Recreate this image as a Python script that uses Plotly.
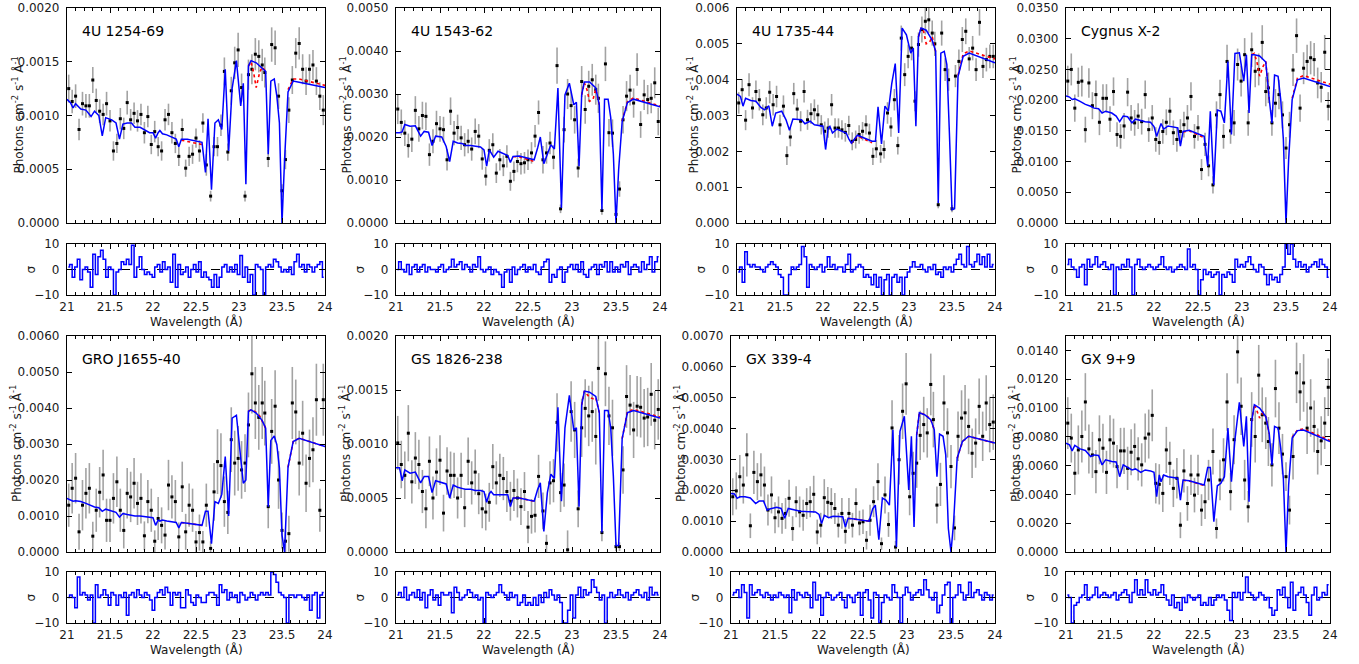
import plotly.graph_objects as go

# ---------------- data ----------------
NAMES = ["4U 1254-69", "4U 1543-62", "4U 1735-44", "Cygnus X-2",
         "GRO J1655-40", "GS 1826-238", "GX 339-4", "GX 9+9"]
Y_MAX = [0.002, 0.005, 0.006, 0.035, 0.006, 0.002, 0.007, 0.015]
Y_DTICK = [0.0005, 0.001, 0.001, 0.005, 0.001, 0.0005, 0.001, 0.002]
Y_FMT = [".4f", ".4f", ".3f", ".4f", ".4f", ".4f", ".4f", ".4f"]

DATA_X = [21.02, 21.06, 21.10, 21.14, 21.18, 21.22, 21.26, 21.30, 21.34, 21.38,
          21.42, 21.46, 21.50, 21.54, 21.58, 21.62, 21.66, 21.70, 21.74, 21.78,
          21.82, 21.86, 21.90, 21.94, 21.98, 22.02, 22.06, 22.10, 22.14, 22.18,
          22.22, 22.26, 22.30, 22.34, 22.38, 22.42, 22.46, 22.50, 22.54, 22.58,
          22.62, 22.67, 22.71, 22.75, 22.79, 22.83, 22.87, 22.91, 22.95, 22.99,
          23.03, 23.07, 23.11, 23.15, 23.19, 23.23, 23.27, 23.30, 23.34, 23.38,
          23.42, 23.46, 23.50, 23.54, 23.58, 23.62, 23.66, 23.70, 23.74, 23.78,
          23.82, 23.86, 23.90, 23.94, 23.98]

D1 = [0.00125, 0.00113, 0.00118, 0.00087, 0.00111, 0.00109, 0.00109, 0.00133, 0.00114, 0.00104,
      0.00101, 0.00111, 0.00095, 0.00067, 0.00074, 0.00097, 0.00088, 0.00112, 0.00096, 0.00102,
      0.00095, 0.00101, 0.00084, 0.00099, 0.00073, 0.00085, 0.00071, 0.00067, 0.00096, 0.00101,
      0.00084, 0.00074, 0.00062, 0.00087, 0.00051, 0.00062, 0.00064, 0.00079, 0.00067, 0.00093,
      0.00054, 0.00025, 0.00071, 0.00071, 0.00091, 0.00141, 0.00066, 0.00123, 0.00149, 0.00161,
      0.00126, 0.00025, 0.00138, 0.00143, 0.00157, 0.00155, 0.00147, 0.00140, 0.00060, 0.00166,
      0.00163, 0.00118, 0.00030, 0.00059, 0.00105, 0.00133, 0.00158, 0.00167, 0.00143, 0.00132,
      0.00143, 0.00147, 0.00132, 0.00118, 0.00105]
E1 = [0.00013, 0.00011, 0.00011, 0.0001, 0.00011, 0.00011, 0.00011, 0.00012, 0.00011, 0.00011,
      0.0001, 0.00011, 0.0001, 0.00009, 0.00009, 0.0001, 0.0001, 0.00011, 0.0001, 0.0001,
      0.0001, 0.0001, 0.0001, 0.0001, 0.00009, 0.0001, 0.00009, 0.00009, 0.0001, 0.0001,
      0.0001, 0.00009, 0.00009, 0.0001, 0.00008, 0.00009, 0.00009, 0.00009, 0.0001, 0.00009,
      0.0001, 0.00005, 0.00009, 0.00009, 0.0001, 0.00013, 0.00008, 0.00013, 0.00015, 0.00016,
      0.00013, 0.00005, 0.00014, 0.00014, 0.00015, 0.00015, 0.00015, 0.00014, 0.00008, 0.00016,
      0.00016, 0.00012, 0.00006, 0.00009, 0.00012, 0.00013, 0.00014, 0.00015, 0.00014, 0.00013,
      0.00014, 0.00014, 0.00013, 0.00013, 0.00014]

D2 = [0.00265, 0.00234, 0.00209, 0.0018, 0.00195, 0.00262, 0.00219, 0.0025, 0.00248, 0.00159,
      0.0019, 0.00231, 0.00219, 0.00217, 0.00147, 0.0026, 0.00209, 0.00222, 0.00198, 0.00182,
      0.0019, 0.00172, 0.00213, 0.00202, 0.00149, 0.00109, 0.00169, 0.00182, 0.00116, 0.00147,
      0.00133, 0.00155, 0.00097, 0.0012, 0.00143, 0.00138, 0.0014, 0.00147, 0.00163, 0.00202,
      0.00257, 0.00147, 0.00163, 0.00186, 0.00153, 0.00366, 0.00033, 0.00217, 0.0030, 0.00273,
      0.0024, 0.00128, 0.00329, 0.00264, 0.00318, 0.00333, 0.0031, 0.0029, 0.00029, 0.0037,
      0.0021, 0.00209, 0.0002, 0.00079, 0.0024, 0.00295, 0.00309, 0.00279, 0.00357, 0.00229,
      0.00298, 0.00287, 0.0029, 0.00326, 0.00236]
E2 = [0.00035, 0.0003, 0.0003, 0.00028, 0.0003, 0.00033, 0.0003, 0.00032, 0.00032, 0.00026,
      0.00028, 0.0003, 0.0003, 0.0003, 0.00025, 0.00032, 0.00028, 0.0003, 0.00028, 0.00027,
      0.00028, 0.00027, 0.0003, 0.00028, 0.00025, 0.00022, 0.00026, 0.00027, 0.00023, 0.00025,
      0.00024, 0.00026, 0.00022, 0.00023, 0.00025, 0.00025, 0.00025, 0.00024, 0.00025, 0.00026,
      0.00028, 0.00032, 0.00025, 0.00026, 0.00028, 0.00042, 0.0001, 0.0003, 0.00035, 0.00033,
      0.00032, 0.00022, 0.00036, 0.00033, 0.00036, 0.00037, 0.00035, 0.00034, 0.0001, 0.0004,
      0.00032, 0.00032, 0.00008, 0.00018, 0.00032, 0.00035, 0.00036, 0.00034, 0.00038, 0.00031,
      0.00035, 0.00034, 0.00035, 0.00036, 0.00032]

D3 = [0.00335, 0.00372, 0.00287, 0.00386, 0.00321, 0.00367, 0.00344, 0.00302, 0.00321, 0.00365,
      0.0033, 0.00353, 0.00274, 0.00326, 0.00188, 0.0024, 0.00361, 0.00318, 0.00284, 0.00367,
      0.00288, 0.00305, 0.00316, 0.00302, 0.00274, 0.00256, 0.00265, 0.0033, 0.00265, 0.00265,
      0.0026, 0.00253, 0.00272, 0.00228, 0.00233, 0.00247, 0.00256, 0.00274, 0.00251, 0.00186,
      0.00207, 0.00193, 0.00205, 0.00307, 0.00268, 0.00344, 0.00216, 0.00516, 0.00414, 0.00465,
      0.00488, 0.0034, 0.00498, 0.0054, 0.00563, 0.00567, 0.0053, 0.0050, 0.00051, 0.0053,
      0.00428, 0.004, 0.0004, 0.0041, 0.00451, 0.00512, 0.00535, 0.00458, 0.00488, 0.00428,
      0.0056, 0.00437, 0.00456, 0.00465, 0.00465]
E3 = [0.0003, 0.0003, 0.00028, 0.00032, 0.0003, 0.00031, 0.0003, 0.00029, 0.0003, 0.00031,
      0.0003, 0.0003, 0.00028, 0.0003, 0.00026, 0.00026, 0.0003, 0.00029, 0.00028, 0.00031,
      0.00028, 0.00029, 0.00029, 0.00028, 0.00027, 0.00027, 0.00027, 0.0003, 0.00027, 0.00027,
      0.00027, 0.00026, 0.00027, 0.00025, 0.00025, 0.00026, 0.00026, 0.00027, 0.00026, 0.00024,
      0.00025, 0.00025, 0.00025, 0.0003, 0.00027, 0.0003, 0.00025, 0.00035, 0.00032, 0.00033,
      0.00034, 0.00028, 0.00034, 0.00036, 0.00037, 0.00037, 0.00035, 0.00034, 0.0001, 0.00035,
      0.00032, 0.00031, 0.0001, 0.00031, 0.00033, 0.00035, 0.00036, 0.00033, 0.00034, 0.00032,
      0.00037, 0.00032, 0.00033, 0.00033, 0.00033]

D4 = [0.0231, 0.025, 0.0187, 0.0229, 0.0231, 0.0152, 0.0228, 0.0191, 0.0209, 0.0164,
      0.0203, 0.0203, 0.0169, 0.0214, 0.0144, 0.0141, 0.0158, 0.0213, 0.0171, 0.0163,
      0.0174, 0.0165, 0.0209, 0.0152, 0.0171, 0.0136, 0.0131, 0.0149, 0.0164, 0.0182,
      0.0147, 0.0136, 0.0149, 0.016, 0.0171, 0.0206, 0.0141, 0.0155, 0.0087, 0.0128,
      0.0093, 0.0062, 0.0176, 0.0209, 0.0141, 0.0263, 0.015, 0.0163, 0.0258, 0.0231,
      0.0274, 0.0163, 0.0282, 0.0247, 0.025, 0.0294, 0.0214, 0.022, 0.0163, 0.0195,
      0.0209, 0.0176, 0.0122, 0.016, 0.0249, 0.0305, 0.0187, 0.0252, 0.0263, 0.0269,
      0.0266, 0.0228, 0.0221, 0.0278, 0.019]
E4 = [0.0025, 0.0026, 0.0022, 0.0024, 0.0025, 0.0021, 0.0024, 0.0022, 0.0023, 0.0021,
      0.0023, 0.0023, 0.0021, 0.0023, 0.002, 0.002, 0.0021, 0.0023, 0.0021, 0.0021,
      0.0021, 0.0021, 0.0023, 0.002, 0.0021, 0.002, 0.002, 0.002, 0.0021, 0.0022,
      0.002, 0.002, 0.002, 0.0021, 0.0021, 0.0023, 0.002, 0.0021, 0.0017, 0.0019,
      0.0017, 0.0014, 0.0022, 0.0024, 0.002, 0.0027, 0.0021, 0.0021, 0.0026, 0.0025,
      0.0027, 0.0021, 0.0028, 0.0026, 0.0026, 0.0028, 0.0024, 0.0025, 0.0021, 0.0023,
      0.0024, 0.0022, 0.0018, 0.0021, 0.0026, 0.0028, 0.0022, 0.0026, 0.0027, 0.0027,
      0.0027, 0.0025, 0.0025, 0.0028, 0.0023]

D5 = [0.0013, 0.00177, 0.00205, 0.00056, 0.0013, 0.00163, 0.00177, 0.00044, 0.00116, 0.00166,
      0.00214, 0.00088, 0.00088, 0.00149, 0.00195, 0.00116, 0.0006, 0.00163, 0.00153, 0.00191,
      0.00135, 0.00149, 0.00045, 0.0014, 0.00116, 0.0003, 0.00093, 0.00074, 0.00047, 0.00186,
      0.00153, 0.0014, 0.00042, 0.00181, 0.00056, 0.0013, 0.00116, 0.00028, 0.00054, 0.00028,
      0.0013, 0.0001, 0.00167, 0.00251, 0.0024, 0.0014, 0.0011, 0.00312, 0.00247, 0.0026,
      0.00228, 0.00247, 0.00353, 0.00495, 0.00414, 0.00374, 0.00414, 0.00386, 0.00126, 0.00335,
      0.00405, 0.0020, 0.0006, 0.0003, 0.00051, 0.00414, 0.00389, 0.00247, 0.0033, 0.00191,
      0.0026, 0.00284, 0.00423, 0.00116, 0.00423]
E5 = [0.0006, 0.0007, 0.0007, 0.0005, 0.0007, 0.0007, 0.0007, 0.0004, 0.0006, 0.0007,
      0.0007, 0.0006, 0.0006, 0.0007, 0.0007, 0.0006, 0.0005, 0.0007, 0.0007, 0.0007,
      0.0006, 0.0007, 0.0004, 0.0006, 0.0006, 0.0003, 0.0006, 0.0005, 0.0004, 0.0007,
      0.0006, 0.0006, 0.0004, 0.0007, 0.0005, 0.0006, 0.0006, 0.0003, 0.0005, 0.0003,
      0.0006, 0.0002, 0.0008, 0.0009, 0.0009, 0.0007, 0.0006, 0.0009, 0.0009, 0.0009,
      0.0008, 0.0008, 0.0009, 0.0011, 0.001, 0.0009, 0.001, 0.0009, 0.0006, 0.0009,
      0.001, 0.0008, 0.0005, 0.0003, 0.0005, 0.001, 0.0009, 0.0009, 0.0009, 0.0008,
      0.0008, 0.0009, 0.001, 0.0006, 0.001]

D6 = [0.00101, 0.00081, 0.00071, 0.0011, 0.00065, 0.00087, 0.00081, 0.00056, 0.0004, 0.00084,
      0.0005, 0.00074, 0.00085, 0.00036, 0.00075, 0.00071, 0.00071, 0.0005, 0.00071, 0.00041,
      0.00084, 0.00064, 0.00074, 0.00054, 0.0004, 0.00037, 0.00046, 0.00079, 0.00064, 0.00071,
      0.00068, 0.00056, 0.00047, 0.00057, 0.0005, 0.00042, 0.00056, 0.00023, 0.00033, 0.00034,
      0.0007, 0.00038, 0.00008, 0.00064, 0.00066, 0.0012, 0.00055, 0.00062, 0.00002, 0.0013,
      0.00113, 0.0004, 0.00115, 0.00133, 0.00126, 0.0013, 0.00107, 0.0017, 0.00018, 0.00165,
      0.00126, 0.00115, 0.00005, 0.00005, 0.00076, 0.00144, 0.00136, 0.00113, 0.00135, 0.00134,
      0.00124, 0.00125, 0.00146, 0.00122, 0.00132]
E6 = [0.00025, 0.00022, 0.00022, 0.00026, 0.0002, 0.00024, 0.00023, 0.0002, 0.00018, 0.00023,
      0.0002, 0.00022, 0.00023, 0.00017, 0.00022, 0.00022, 0.00021, 0.00019, 0.00021, 0.00018,
      0.00022, 0.0002, 0.00021, 0.00019, 0.00018, 0.00017, 0.00018, 0.00021, 0.0002, 0.0002,
      0.0002, 0.00019, 0.00018, 0.00019, 0.00018, 0.00017, 0.00018, 0.00015, 0.00016, 0.00016,
      0.0002, 0.00017, 0.00008, 0.0002, 0.0002, 0.00027, 0.00018, 0.0002, 0.00018, 0.00028,
      0.00026, 0.00017, 0.00027, 0.00027, 0.00028, 0.00028, 0.00026, 0.0003, 0.00008, 0.0003,
      0.00027, 0.00026, 0.00004, 0.00004, 0.00022, 0.00029, 0.00028, 0.00026, 0.00028, 0.00028,
      0.00027, 0.00027, 0.00029, 0.00027, 0.00028]

D7 = [0.00179, 0.00198, 0.00244, 0.00217, 0.00315, 0.00085, 0.00258, 0.00228, 0.0025, 0.00217,
      0.00136, 0.00185, 0.00111, 0.0013, 0.00109, 0.00125, 0.00174, 0.00076, 0.00163, 0.0013,
      0.00119, 0.00157, 0.00163, 0.00187, 0.00065, 0.00087, 0.00176, 0.00161, 0.00157, 0.00141,
      0.00087, 0.00125, 0.00067, 0.00125, 0.00087, 0.00157, 0.00094, 0.00098, 0.00038, 0.00103,
      0.00163, 0.00228, 0.00027, 0.00185, 0.00089, 0.00402, 0.00016, 0.00299, 0.00456, 0.00545,
      0.00179, 0.00255, 0.00288, 0.00378, 0.00413, 0.00386, 0.00543, 0.00429, 0.00152, 0.00219,
      0.00483, 0.00386, 0.00277, 0.00078, 0.00375, 0.00434, 0.00451, 0.00407, 0.0032, 0.00353,
      0.00472, 0.00375, 0.00483, 0.00413, 0.00421]
E7 = [0.0006, 0.0006, 0.0007, 0.0006, 0.0007, 0.0004, 0.0007, 0.0006, 0.0007, 0.0006,
      0.0005, 0.0006, 0.0005, 0.0005, 0.0005, 0.0005, 0.0006, 0.0004, 0.0005, 0.0005,
      0.0005, 0.0005, 0.0005, 0.0006, 0.0004, 0.0004, 0.0006, 0.0005, 0.0005, 0.0005,
      0.0004, 0.0005, 0.0004, 0.0005, 0.0004, 0.0005, 0.0004, 0.0004, 0.0003, 0.0005,
      0.0005, 0.0006, 0.0002, 0.0006, 0.0004, 0.0009, 0.0002, 0.0008, 0.0009, 0.001,
      0.0006, 0.0007, 0.0008, 0.0008, 0.0009, 0.0008, 0.001, 0.0009, 0.0006, 0.0007,
      0.0009, 0.0008, 0.0007, 0.0004, 0.0008, 0.0009, 0.0009, 0.0009, 0.0008, 0.0008,
      0.0009, 0.0008, 0.0009, 0.0009, 0.0009]

D8 = [0.00895, 0.00791, 0.00547, 0.00709, 0.00802, 0.01042, 0.00716, 0.00674, 0.00558, 0.00779,
      0.00721, 0.00553, 0.00779, 0.00756, 0.00593, 0.00702, 0.00702, 0.00581, 0.00693, 0.00733,
      0.00647, 0.00605, 0.00791, 0.00819, 0.00949, 0.00477, 0.0047, 0.00407, 0.00709, 0.00616,
      0.00442, 0.00512, 0.00186, 0.00563, 0.00337, 0.00535, 0.00395, 0.00535, 0.00291, 0.00349,
      0.005, 0.00698, 0.00163, 0.005, 0.0064, 0.01042, 0.00419, 0.0078, 0.0139, 0.01012,
      0.005, 0.00314, 0.0092, 0.00802, 0.01228, 0.00953, 0.00895, 0.00767, 0.00605, 0.01135,
      0.0086, 0.0068, 0.00523, 0.00291, 0.00663, 0.01244, 0.01112, 0.01174, 0.0086, 0.01,
      0.00872, 0.00698, 0.00772, 0.00895, 0.01144]
E8 = [0.0018, 0.0017, 0.0015, 0.0017, 0.0018, 0.002, 0.0017, 0.0016, 0.0015, 0.0017,
      0.0017, 0.0015, 0.0017, 0.0017, 0.0015, 0.0016, 0.0016, 0.0015, 0.0016, 0.0016,
      0.0015, 0.0015, 0.0017, 0.0017, 0.0018, 0.0014, 0.0014, 0.0013, 0.0016, 0.0015,
      0.0013, 0.0014, 0.0009, 0.0015, 0.0012, 0.0014, 0.0012, 0.0014, 0.0011, 0.0012,
      0.0014, 0.0016, 0.0007, 0.0014, 0.0015, 0.002, 0.0013, 0.0017, 0.0022, 0.002,
      0.0014, 0.0011, 0.0019, 0.0018, 0.0021, 0.0019, 0.0018, 0.0017, 0.0015, 0.002,
      0.0018, 0.0014, 0.001, 0.001, 0.0016, 0.0021, 0.002, 0.002, 0.0018, 0.002,
      0.0018, 0.0016, 0.0017, 0.0018, 0.002]

MODEL_X = [21.00, 21.04, 21.07, 21.10, 21.16, 21.22, 21.28, 21.32, 21.37, 21.41,
           21.45, 21.52, 21.57, 21.61, 21.65, 21.70, 21.75, 21.79, 21.85, 21.90,
           21.96, 22.00, 22.03, 22.06, 22.08, 22.11, 22.16, 22.27, 22.30, 22.33,
           22.40, 22.57, 22.61, 22.64, 22.68, 22.72, 22.76, 22.80, 22.84, 22.88,
           22.92, 22.97, 23.02, 23.05, 23.08, 23.11, 23.14, 23.20, 23.27, 23.31,
           23.34, 23.37, 23.41, 23.44, 23.47, 23.50, 23.53, 23.57, 23.63, 23.70,
           24.00]

M1 = [0.00115, 0.00112, 0.00107, 0.00111, 0.00106, 0.00105, 0.00099, 0.00104, 0.00100, 0.00081,
      0.00098, 0.00096, 0.00093, 0.00078, 0.00092, 0.00093, 0.00093, 0.00089, 0.00089, 0.00087,
      0.00084, 0.00084, 0.00079, 0.00084, 0.00086, 0.00083, 0.00082, 0.00078, 0.00071, 0.00078,
      0.00078, 0.00075, 0.00047, 0.00097, 0.00031, 0.00093, 0.00096, 0.00087, 0.00143, 0.00067,
      0.00125, 0.00151, 0.00109, 0.00130, 0.00036, 0.00146, 0.00151, 0.00149, 0.00144, 0.00141,
      0.00064, 0.00132, 0.00134, 0.00118, 0.00093, 0.0, 0.00059, 0.00122, 0.00132, 0.00131,
      0.00126]
M2 = [0.0021, 0.0021, 0.00212, 0.00229, 0.00225, 0.00226, 0.00202, 0.00213, 0.00211, 0.0018,
      0.00202, 0.002, 0.00178, 0.00143, 0.0019, 0.00186, 0.00185, 0.0018, 0.0018, 0.00179,
      0.00177, 0.0017, 0.00132, 0.0017, 0.00162, 0.00153, 0.00167, 0.00157, 0.00141, 0.00155,
      0.00156, 0.00147, 0.00175, 0.002, 0.00138, 0.0016, 0.00182, 0.00172, 0.00314, 0.00035,
      0.00298, 0.00325, 0.00275, 0.00281, 0.00132, 0.00298, 0.00328, 0.00328, 0.00314, 0.00275,
      0.00031, 0.00288, 0.00288, 0.00245, 0.0016, 0.0, 0.00124, 0.00236, 0.0028, 0.00288,
      0.0027]
M3 = [0.0036, 0.00353, 0.00326, 0.00348, 0.00342, 0.0034, 0.00322, 0.00316, 0.00327, 0.0027,
      0.00307, 0.00312, 0.00288, 0.00259, 0.0029, 0.0029, 0.00288, 0.00277, 0.00284, 0.00274,
      0.00272, 0.0027, 0.00205, 0.00265, 0.0027, 0.00251, 0.00262, 0.00251, 0.00235, 0.00223,
      0.00245, 0.00228, 0.00228, 0.00324, 0.00221, 0.00326, 0.00312, 0.0039, 0.00445, 0.00251,
      0.00544, 0.00525, 0.00474, 0.00488, 0.0027, 0.0052, 0.00544, 0.00538, 0.0051, 0.00479,
      0.00056, 0.00474, 0.00479, 0.00442, 0.0025, 0.00037, 0.0004, 0.00409, 0.00465, 0.00474,
      0.00447]
M4 = [0.0207, 0.0205, 0.0201, 0.0202, 0.0198, 0.0193, 0.019, 0.0187, 0.0186, 0.0179,
      0.0182, 0.0179, 0.0174, 0.0165, 0.0174, 0.0173, 0.0163, 0.0169, 0.0167, 0.0165,
      0.0164, 0.0157, 0.0141, 0.0155, 0.0162, 0.0153, 0.0158, 0.0155, 0.0125, 0.0149,
      0.0151, 0.0141, 0.0093, 0.0182, 0.0062, 0.0184, 0.0182, 0.0163, 0.0263, 0.0144,
      0.0276, 0.0277, 0.0231, 0.0274, 0.0179, 0.0274, 0.0274, 0.0272, 0.0262, 0.0201,
      0.0163, 0.0241, 0.0239, 0.0201, 0.0136, 0.0, 0.0103, 0.0201, 0.0233, 0.0236,
      0.0222]
M5 = [0.00149, 0.00144, 0.00141, 0.00142, 0.0014, 0.00135, 0.00128, 0.00125, 0.00123, 0.00113,
      0.00119, 0.00114, 0.0011, 0.00097, 0.00107, 0.00104, 0.00102, 0.001, 0.001, 0.00099,
      0.00097, 0.00095, 0.00074, 0.00089, 0.00086, 0.00089, 0.00086, 0.00082, 0.00067, 0.00082,
      0.0008, 0.00074, 0.00113, 0.00113, 0.00023, 0.0014, 0.00135, 0.0016, 0.00265, 0.001,
      0.00372, 0.0038, 0.0026, 0.00191, 0.002, 0.00391, 0.00395, 0.00386, 0.00365, 0.00344,
      0.00126, 0.0031, 0.00322, 0.00298, 0.00233, 0.00047, 0.0, 0.00235, 0.00307, 0.00316,
      0.00293]
M6 = [0.00078, 0.00078, 0.00066, 0.00076, 0.00073, 0.00074, 0.00064, 0.0007, 0.0007, 0.00055,
      0.00066, 0.00064, 0.00063, 0.0005, 0.00062, 0.0006, 0.00059, 0.00058, 0.00058, 0.00057,
      0.00057, 0.00056, 0.00046, 0.00054, 0.00056, 0.00053, 0.00053, 0.00053, 0.00042, 0.0005,
      0.0005, 0.00047, 0.00058, 0.00064, 0.00019, 0.00055, 0.00072, 0.00068, 0.00134, 0.00047,
      0.00115, 0.00145, 0.00113, 0.00115, 0.00042, 0.00136, 0.00149, 0.00148, 0.00144, 0.00129,
      0.00018, 0.00131, 0.00131, 0.00115, 0.0007, 0.00006, 0.00006, 0.00105, 0.00129, 0.00131,
      0.00124]
M7 = [0.0019, 0.00188, 0.00174, 0.00179, 0.00179, 0.00175, 0.00157, 0.00165, 0.00165, 0.00136,
      0.0014, 0.00145, 0.00141, 0.00109, 0.00141, 0.00137, 0.00133, 0.00132, 0.00131, 0.0013,
      0.0013, 0.00122, 0.00092, 0.00119, 0.00115, 0.00111, 0.00116, 0.00114, 0.00081, 0.00109,
      0.00107, 0.001, 0.0014, 0.00152, 0.0004, 0.00175, 0.00168, 0.00152, 0.00396, 0.00016,
      0.00391, 0.0044, 0.00201, 0.00375, 0.00081, 0.0038, 0.00451, 0.00445, 0.00429, 0.00396,
      0.00244, 0.00382, 0.00375, 0.00315, 0.00076, 0.0, 0.00098, 0.00304, 0.00358, 0.00375,
      0.00353]
M8 = [0.00756, 0.00744, 0.00702, 0.0074, 0.00716, 0.00705, 0.00663, 0.00674, 0.0067, 0.00605,
      0.0064, 0.00628, 0.00625, 0.00523, 0.00605, 0.00586, 0.0057, 0.00577, 0.00553, 0.0057,
      0.00563, 0.00553, 0.00384, 0.00535, 0.00488, 0.00535, 0.00523, 0.00512, 0.0036, 0.005,
      0.00495, 0.00465, 0.00586, 0.00586, 0.0021, 0.0046, 0.00477, 0.00523, 0.0086, 0.00488,
      0.0078, 0.0104, 0.00733, 0.00942, 0.00349, 0.00907, 0.01023, 0.0100, 0.0094, 0.0082,
      0.00605, 0.00872, 0.0086, 0.0072, 0.0051, 0.0, 0.00465, 0.00791, 0.00843, 0.00847,
      0.00767]

# second (red, dotted) model where it departs from the blue one
RED_X = [22.33, 22.40, 22.57, None, 23.11, 23.14, 23.17, 23.20, 23.24, 23.27, 23.31,
         None, 23.57, 23.63, 23.70, 24.00]
R1 = [0.00077, 0.00076, 0.00073, None, 0.00146, 0.0015, 0.0014, 0.00126, 0.0014, 0.00145, 0.00141,
      None, 0.00124, 0.00134, 0.00134, 0.00128]
R2 = [0.00154, 0.00154, 0.00143, None, 0.00298, 0.00326, 0.0031, 0.00283, 0.00288, 0.00312, 0.00275,
      None, 0.00237, 0.00282, 0.00291, 0.00272]
R3 = [0.00222, 0.00243, 0.00224, None, 0.0052, 0.00544, 0.00535, 0.005, 0.00505, 0.0052, 0.00479,
      None, 0.00412, 0.00472, 0.0048, 0.00458]
R4 = [0.0148, 0.015, 0.0139, None, 0.0274, 0.0276, 0.0262, 0.0239, 0.0255, 0.0263, 0.0201,
      None, 0.0203, 0.0236, 0.024, 0.0226]
R5 = [0.00082, 0.0008, 0.00074, None, 0.00391, 0.00395, 0.00392, 0.00388, 0.00378, 0.00365, 0.00344,
      None, 0.00235, 0.00307, 0.00316, 0.00293]
R6 = [0.0005, 0.0005, 0.00047, None, 0.00136, 0.00149, 0.00146, 0.00143, 0.00142, 0.00143, 0.00129,
      None, 0.00105, 0.0013, 0.00132, 0.00125]
R7 = [0.00109, 0.00107, 0.001, None, 0.0038, 0.00451, 0.00449, 0.00446, 0.00437, 0.00429, 0.00396,
      None, 0.00304, 0.00358, 0.00375, 0.00353]
R8 = [0.00498, 0.00493, 0.00462, None, 0.00907, 0.01025, 0.0098, 0.0093, 0.0097, 0.0094, 0.0082,
      None, 0.00795, 0.00848, 0.00855, 0.00775]

RES_X = [21.015, 21.045, 21.075, 21.105, 21.135, 21.165, 21.195, 21.225, 21.255, 21.285,
         21.315, 21.345, 21.375, 21.405, 21.435, 21.465, 21.495, 21.525, 21.555, 21.585,
         21.615, 21.645, 21.675, 21.705, 21.735, 21.765, 21.795, 21.825, 21.855, 21.885,
         21.915, 21.945, 21.975, 22.005, 22.035, 22.065, 22.095, 22.125, 22.155, 22.185,
         22.215, 22.245, 22.275, 22.305, 22.335, 22.365, 22.395, 22.425, 22.455, 22.485,
         22.515, 22.545, 22.575, 22.605, 22.635, 22.665, 22.695, 22.725, 22.755, 22.785,
         22.815, 22.845, 22.875, 22.905, 22.935, 22.965, 22.995, 23.025, 23.055, 23.085,
         23.115, 23.145, 23.175, 23.205, 23.235, 23.265, 23.295, 23.325, 23.355, 23.385,
         23.415, 23.445, 23.475, 23.505, 23.535, 23.565, 23.595, 23.625, 23.655, 23.685,
         23.715, 23.745, 23.775, 23.805, 23.835, 23.865, 23.895, 23.925, 23.955, 23.985]

S1 = [1, 2, -3, 1, 4, -4, 0, 1, -1, -7,
      6, -2, 5, 7.5, 4, -3, 1, 0, -10, -1,
      0, 3, 2, 4, 2, 9.5, -3, 1, 5, 0,
      -2, -1, -2, -3, 1, 2, -1, 3, 0, 1,
      -5, 6, -7, 2, -2, -1, 1, -3, 0, 2,
      -1, 3, -3, -1, -3, -4, -7, -2, -7, -3,
      1, 2, -1, 1, -1, 2, -2, 5.5, -3, 1,
      -5, -2, -10, 2, 1, 0, -10, 1, 2, 1,
      4, 3, 1, -1, 0, -1, 1, -2, 3, 6,
      1, 2, -1, 2, 1, -1, 1, 2, 3, -3]
S2 = [0, 3, 0, -1, 2, -2, 1, 2, -1, 1,
      2, -1, 1, 0, 0, -1, 1, 2, -1, 0,
      1, 4, 1, 2, 3, 0, 2, 1, -1, 2,
      1, 5, 0, -1, 0, 1, -2, 0, -1, -2,
      -7, -1, 0, -5, 1, -2, 0, 1, 2, -1,
      1, 0, 2, -1, -2, 1, 3, 4, -5, -2,
      -3, 0, 1, -5, -1, 1, 2, 0, 2, -1,
      3, -2, -3, 0, 1, 2, -2, 2, 1, 3,
      -1, 3, -1, 1, -1, 2, 1, 3, -2, 1,
      2, 1, -1, 3, 0, 2, 5, -1, 3, 5]
S3 = [-1, 1, -5, 7, 2, 1, 2, 1, 1, 0,
      -1, 1, 2, 3, 2, 1, -2, -3, -10, -10,
      -2, 1, 0, 1, 2, 9, 5, -7, 2, 1,
      0, 1, 2, -1, 1, 5, 1, 2, 0, 1,
      1, -1, 2, 6, -1, 0, 1, 2, 1, -3,
      -2, -3, -6, -2, -7, -3, -10, -4, -2, -10,
      -3, -2, -5, -3, -10, -3, -1, 1, 3, 1,
      1, 2, 0, -1, 1, 0, 2, -2, -1, -3,
      1, 0, 1, -1, 2, 4, 6, 2, 1, 9,
      2, 1, 3, 6, 2, 5, 1, 6, 1, 2]
S4 = [2, 4, 1, 0, -3, 1, 2, -6, 4, 1,
      2, 5, 1, 2, 3, 1, 0, 2, -10, 1,
      0, 2, 1, 4, 1, -10, 2, 4, 1, 0,
      1, 2, 1, 0, 1, 2, 5, 1, 0, 1,
      -1, 0, 1, 2, 1, 0, 8, 1, 2, 0,
      -10, -4, 0, -2, -1, -3, -2, -1, -10, -2,
      -3, -1, -2, -5, 4, 1, 2, 1, 3, 5,
      2, 0, -1, 2, 1, -2, -6, -2, -4, -3,
      -5, -2, 1, 10, 6, 10, 4, 1, 3, 1,
      2, -1, 1, 2, 3, 1, 4, 2, 1, -3]
S5 = [0, 1, 0, -4, 8, 1, 2, 1, -1, 1,
      -10, 5, 0, 1, 3, 1, -3, 2, 1, -3,
      1, 0, 2, -7, 1, 2, 0, 3, 1, 0,
      2, 1, -1, -5, 0, 2, 3, 1, 4, 2,
      -3, 2, 1, 2, -4, -4, 3, 1, -2, -3,
      1, 0, -2, -2, 1, 2, 2, 1, -3, 5,
      2, 3, -1, 2, 0, 1, -2, 2, 1, -1,
      0, 2, 1, -1, 1, 2, 1, 2, 1, 10,
      9, 6, 2, 1, 0, -10, 1, 1, 0, 1,
      1, 0, -1, 1, -5, 1, 2, -8, 1, 2]
S6 = [1, 2, 0, 4, -1, 1, 2, 0, 3, -1,
      2, -4, 1, 3, -1, 1, -3, 2, 1, 1,
      2, -6, 4, 2, -1, 0, 1, 3, 2, 0,
      1, -1, 0, -10, 2, 1, 0, 1, 2, 5,
      2, 1, -1, 2, 0, 1, -3, -2, 1, -3,
      -2, -3, 0, -3, 1, -2, 2, 0, 3, 1,
      -1, 1, -2, -10, -10, -5, 1, -8, 1, 4,
      0, 3, 1, 2, 7, 4, 2, -1, 1, -10,
      0, 2, 0, 1, 3, 1, 0, 2, -1, 1,
      2, 3, 1, 0, 2, -1, 4, 1, 2, 1]
S7 = [1, 2, 3, 0, 5, 2, -8, 5, 1, 2,
      3, 1, 0, 2, 1, -1, 1, 0, 2, 1,
      0, 1, -6, 3, -1, 2, 1, 0, 2, 1,
      -4, 6, -1, 1, -7, 0, 2, 1, -1, 0,
      1, 2, -1, -4, 1, 0, -2, 1, 2, -7,
      2, 3, -1, -8, 2, 1, -10, -2, 1, 0,
      -1, 5, 2, 0, -10, 1, 4, 2, -1, 1,
      2, 3, 1, 7, 3, 0, -1, 2, -6, -3,
      1, 5, 6, -10, 0, 1, 5, 2, -1, 1,
      6, 0, 2, 3, 1, -1, 2, 1, -1, 1]
S8 = [1, 0, -10, -3, -2, 0, 1, 5, -1, 0,
      1, 4, 0, 1, 2, 1, 0, 1, 2, -1,
      1, 2, 3, 1, -2, 2, 7, 1, 3, 1,
      7, 2, 1, 3, 1, 2, 5, 1, -1, -3,
      1, -4, -2, -5, 0, -2, 1, 0, -1, 0,
      1, -3, -2, -3, 0, -3, -1, 1, 0, 1,
      -1, -5, -9, 2, 0, 2, -1, 2, 8, 2,
      1, -1, 0, 2, 1, -1, 0, -4, -7, -5,
      3, 1, 4, 0, -4, 6, -5, 1, 2, 4,
      1, -2, -7, 1, 4, -1, 0, 2, 1, 5]

DATA_Y = [D1, D2, D3, D4, D5, D6, D7, D8]
DATA_E = [E1, E2, E3, E4, E5, E6, E7, E8]
MODEL_Y = [M1, M2, M3, M4, M5, M6, M7, M8]
RED_Y = [R1, R2, R3, R4, R5, R6, R7, R8]
RES_Y = [S1, S2, S3, S4, S5, S6, S7, S8]

# ---------------- layout (page pixels) ----------------
W, H = 1359, 664
PANEL_LR = [(67, 325), (396, 660), (737, 995), (1066, 1330),
            (67, 325), (396, 660), (731, 995), (1066, 1330)]
MAIN_TB = [(8, 223), (336, 552)]
RES_TB = [(244, 295), (572, 623)]
YTITLE_OFF = [50, 51, 45, 51, 51, 51, 51, 51]
FONT = "DejaVu Sans"
TXT = "#1a1a1a"


def px(x):
    return x / W


def py(y):
    return 1 - y / H


fig = go.Figure()
layout = {}
annotations = []


def axname(kind, i):
    return kind + "axis" + ("" if i == 1 else str(i))


def ref(kind, i):
    return kind + ("" if i == 1 else str(i))


common = dict(showline=True, linecolor="black", linewidth=1.2, mirror="ticks",
              ticks="inside", tickcolor="black", ticklen=5, tickwidth=1,
              showgrid=False, zeroline=False, automargin=False,
              tickfont=dict(family=FONT, size=12, color=TXT))

for p in range(8):
    row = p // 4
    L, R = PANEL_LR[p]
    mt, mb = MAIN_TB[row]
    rt, rb = RES_TB[row]
    mi, ri = 2 * p + 1, 2 * p + 2
    xd = [px(L), px(R)]

    fig.add_trace(go.Scatter(
        x=DATA_X, y=DATA_Y[p], mode="markers",
        marker=dict(symbol="square", size=3, color="black"),
        error_y=dict(type="data", array=DATA_E[p], color="#a3a3a3",
                     thickness=1.6, width=0),
        xaxis=ref("x", mi), yaxis=ref("y", mi), showlegend=False))
    fig.add_trace(go.Scatter(
        x=RED_X, y=RED_Y[p], mode="lines",
        line=dict(color="#ff0000", width=1.6, dash="dot"),
        connectgaps=False,
        xaxis=ref("x", mi), yaxis=ref("y", mi), showlegend=False))
    fig.add_trace(go.Scatter(
        x=MODEL_X, y=MODEL_Y[p], mode="lines",
        line=dict(color="#0000ff", width=1.5),
        xaxis=ref("x", mi), yaxis=ref("y", mi), showlegend=False))
    fig.add_trace(go.Scatter(
        x=[21, 24], y=[0, 0], mode="lines",
        line=dict(color="black", width=1, dash="dash"),
        xaxis=ref("x", ri), yaxis=ref("y", ri), showlegend=False))
    fig.add_trace(go.Scatter(
        x=RES_X[:len(RES_Y[p])], y=RES_Y[p], mode="lines",
        line=dict(color="#0000ff", width=1.5, shape="hvh"),
        xaxis=ref("x", ri), yaxis=ref("y", ri), showlegend=False))

    minor = dict(dtick=0.1, ticklen=3, ticks="inside", tickcolor="black", showgrid=False)
    layout[axname("x", mi)] = dict(common, domain=xd, range=[21, 24], tick0=21, dtick=0.5,
                                   showticklabels=False, minor=minor, anchor=ref("y", mi))
    layout[axname("y", mi)] = dict(common, domain=[py(mb), py(mt)],
                                   range=[0, Y_MAX[p]], tick0=0, dtick=Y_DTICK[p],
                                   tickformat=Y_FMT[p], anchor=ref("x", mi),
                                   ticklabelstandoff=4, ticklabeloverflow="allow")
    layout[axname("x", ri)] = dict(common, domain=xd, range=[21, 24], tick0=21, dtick=0.5,
                                   minor=minor, anchor=ref("y", ri))
    layout[axname("y", ri)] = dict(common, domain=[py(rb), py(rt)],
                                   range=[-10, 10], tickvals=[-10, 0, 10],
                                   anchor=ref("x", ri), ticklabelstandoff=4)

    annotations.append(dict(x=px(L + 13), y=py(mt + 23), xref="paper", yref="paper",
                            text=NAMES[p], showarrow=False, xanchor="left", yanchor="middle",
                            font=dict(family=FONT, size=14, color="black")))
    annotations.append(dict(x=px(L - YTITLE_OFF[p]), y=py((mt + mb) / 2),
                            xref="paper", yref="paper", textangle=-90,
                            text="Photons cm<sup>-2</sup> s<sup>-1</sup> Å<sup>-1</sup>",
                            showarrow=False, xanchor="center", yanchor="middle",
                            font=dict(family=FONT, size=12, color=TXT)))
    annotations.append(dict(x=px(L - 37), y=py((rt + rb) / 2),
                            xref="paper", yref="paper", textangle=-90, text="σ",
                            showarrow=False, xanchor="center", yanchor="middle",
                            font=dict(family=FONT, size=12, color=TXT)))
    annotations.append(dict(x=px((L + R) / 2), y=py(rb + 26),
                            xref="paper", yref="paper", text="Wavelength (Å)",
                            showarrow=False, xanchor="center", yanchor="middle",
                            font=dict(family=FONT, size=12, color=TXT)))

fig.update_layout(width=W, height=H, margin=dict(l=0, r=0, t=0, b=0),
                  paper_bgcolor="white", plot_bgcolor="white",
                  showlegend=False, annotations=annotations,
                  font=dict(family=FONT, size=12, color=TXT), **layout)

# remove the browser's default page margin so the figure fills the window exactly
fig.write_html("out.html", config={"displayModeBar": False},
               post_script="document.body.style.margin='0px';document.body.style.overflow='hidden';")
